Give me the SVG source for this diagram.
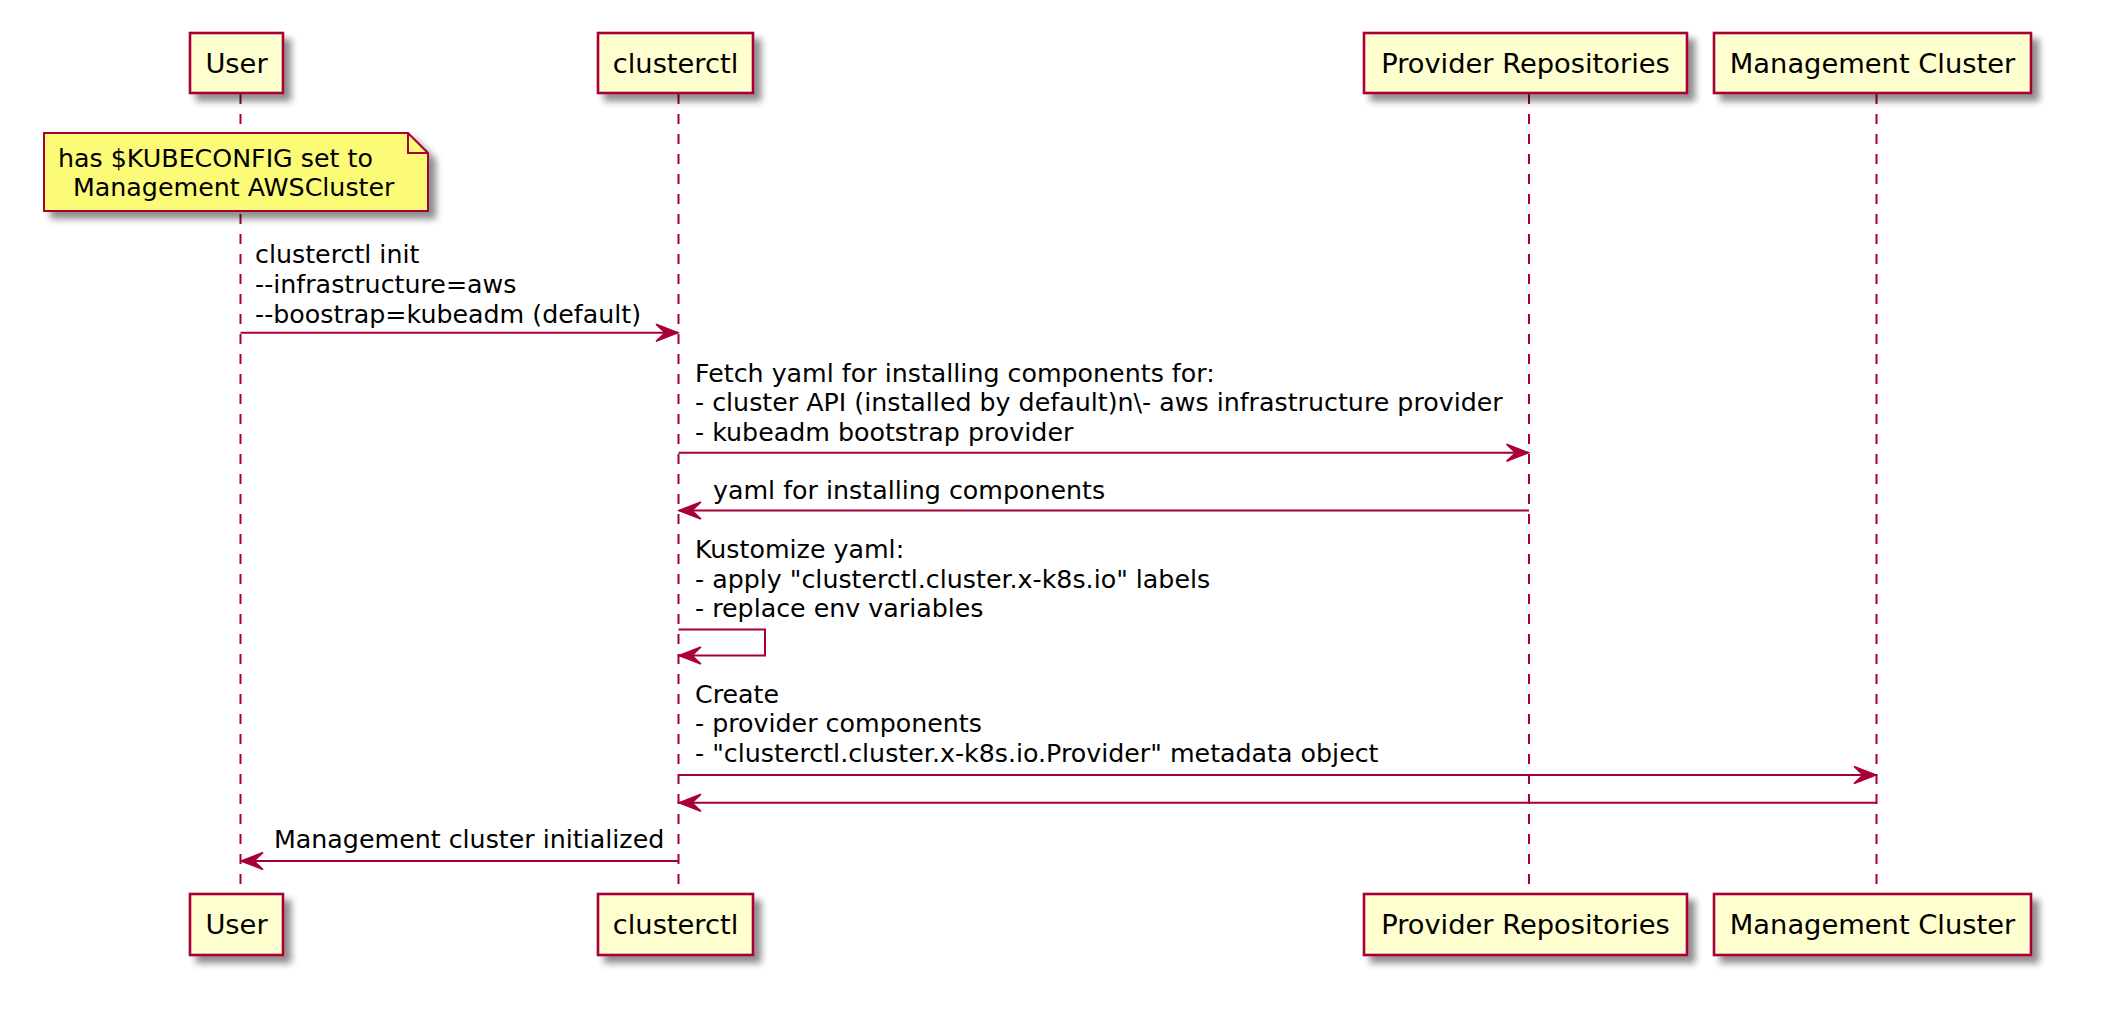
<svg xmlns="http://www.w3.org/2000/svg" width="2122" height="1022" viewBox="0 0 2122 1022">
<style>
.box{fill:#FEFECE;stroke:#A80036;stroke-width:2.6;filter:url(#sh)}
.note{fill:#FBFB77;stroke:#A80036;stroke-width:2;filter:url(#sh)}
.fold{fill:none;stroke:#A80036;stroke-width:2}
.pt{font-family:"DejaVu Sans",Verdana,sans-serif;font-size:27.3px;fill:#000;text-anchor:middle}
.mt{font-family:"DejaVu Sans",Verdana,sans-serif;font-size:25.3px;fill:#000}
.life{stroke:#A80036;stroke-width:2;stroke-dasharray:10 10;fill:none}
.msg{stroke:#A80036;stroke-width:2;fill:none}
.ah{fill:#A80036;stroke:#A80036;stroke-width:1.5}
</style>
<defs>
<filter id="sh" x="-10%" y="-10%" width="130%" height="150%">
<feGaussianBlur in="SourceAlpha" stdDeviation="3.5"/>
<feOffset dx="7" dy="7" result="o"/>
<feComponentTransfer><feFuncA type="linear" slope="0.45"/></feComponentTransfer>
<feMerge><feMergeNode/><feMergeNode in="SourceGraphic"/></feMerge>
</filter>
<marker id="arr" markerUnits="userSpaceOnUse" viewBox="0 0 26 20" markerWidth="26" markerHeight="20" refX="24" refY="10" orient="auto">
<path class="ah" d="M24 10 L2 1.5 L11 10 L2 18.5 Z"/>
</marker>
</defs>
<rect width="2122" height="1022" fill="#FFFFFF"/>
<g id="lifelines">
<line class="life" x1="240.5" y1="94" x2="240.5" y2="894"/>
<line class="life" x1="678.5" y1="94" x2="678.5" y2="894"/>
<line class="life" x1="1529" y1="94" x2="1529" y2="894"/>
<line class="life" x1="1876.5" y1="94" x2="1876.5" y2="894"/>
</g>
<g id="p-user">
<rect class="box" x="190" y="33" width="93" height="60"/>
<text class="pt" x="236.5" y="72.5">User</text>
<rect class="box" x="190" y="894" width="93" height="61"/>
<text class="pt" x="236.5" y="934">User</text>
</g>
<g id="p-clusterctl">
<rect class="box" x="598" y="33" width="155" height="60"/>
<text class="pt" x="675.5" y="72.5">clusterctl</text>
<rect class="box" x="598" y="894" width="155" height="61"/>
<text class="pt" x="675.5" y="934">clusterctl</text>
</g>
<g id="p-provider">
<rect class="box" x="1364" y="33" width="323" height="60"/>
<text class="pt" x="1525.5" y="72.5">Provider Repositories</text>
<rect class="box" x="1364" y="894" width="323" height="61"/>
<text class="pt" x="1525.5" y="934">Provider Repositories</text>
</g>
<g id="p-mgmt">
<rect class="box" x="1714" y="33" width="317" height="60"/>
<text class="pt" x="1872.5" y="72.5">Management Cluster</text>
<rect class="box" x="1714" y="894" width="317" height="61"/>
<text class="pt" x="1872.5" y="934">Management Cluster</text>
</g>
<g id="note">
<path class="note" d="M44 133 L408 133 L428 153 L428 211 L44 211 Z"/>
<path class="fold" d="M408 133 L408 153 L428 153"/>
<text class="mt" x="58" y="166.5">has $KUBECONFIG set to</text>
<text class="mt" x="73" y="196">Management AWSCluster</text>
</g>
<g id="connectors">
<line class="msg" x1="240.5" y1="332.7" x2="678" y2="332.7" marker-end="url(#arr)"/>
<line class="msg" x1="678.5" y1="452.7" x2="1528.5" y2="452.7" marker-end="url(#arr)"/>
<line class="msg" x1="1529" y1="510.5" x2="679" y2="510.5" marker-end="url(#arr)"/>
<polyline class="msg" points="678.5,629.5 765,629.5 765,655.5 679,655.5" marker-end="url(#arr)"/>
<line class="msg" x1="678.5" y1="775" x2="1876" y2="775" marker-end="url(#arr)"/>
<line class="msg" x1="1876.5" y1="802.7" x2="679" y2="802.7" marker-end="url(#arr)"/>
<line class="msg" x1="678.5" y1="861" x2="241" y2="861" marker-end="url(#arr)"/>
</g>
<g id="labels">
<text class="mt" x="255" y="263">clusterctl init</text>
<text class="mt" x="255" y="293">--infrastructure=aws</text>
<text class="mt" x="255" y="323">--boostrap=kubeadm (default)</text>
<text class="mt" x="695" y="381.5">Fetch yaml for installing components for:</text>
<text class="mt" x="695" y="411">- cluster API (installed by default)n\- aws infrastructure provider</text>
<text class="mt" x="695" y="440.5">- kubeadm bootstrap provider</text>
<text class="mt" x="713" y="498.5">yaml for installing components</text>
<text class="mt" x="695" y="558">Kustomize yaml:</text>
<text class="mt" x="695" y="587.5">- apply "clusterctl.cluster.x-k8s.io" labels</text>
<text class="mt" x="695" y="617">- replace env variables</text>
<text class="mt" x="695" y="702.5">Create</text>
<text class="mt" x="695" y="732">- provider components</text>
<text class="mt" x="695" y="761.5">- "clusterctl.cluster.x-k8s.io.Provider" metadata object</text>
<text class="mt" x="274" y="848">Management cluster initialized</text>
</g>
</svg>
